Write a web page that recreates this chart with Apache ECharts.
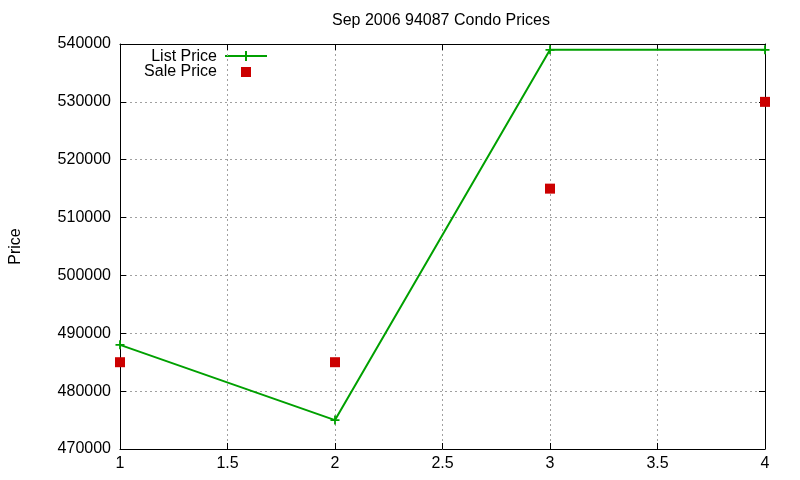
<!DOCTYPE html>
<html>
<head>
<meta charset="utf-8">
<script src="https://cdn.jsdelivr.net/npm/echarts@6/dist/echarts.min.js"></script>
<style>
  html, body { margin: 0; padding: 0; background: #fff; }
  #chart { width: 800px; height: 480px; }
</style>
</head>
<body>
<div id="chart"></div>
<script>
// data
const months = [1, 2, 3, 4];
const listPrice = [488000, 475000, 539000, 539000];
const salePrice = [485000, 485000, 515000, 530000];

const FONT = '"Liberation Sans", Arial, sans-serif';
const FS = 16;
const GREEN = '#00a000';
const RED = '#cc0000';

const chart = echarts.init(document.getElementById('chart'));

// plus marker like gnuplot's point type 1
const plusPath = 'path://M4,0h2v4h4v2h-4v4h-2v-4h-4v-2h4z';

const tickStyle = { inside: true, length: 6, lineStyle: { color: '#000', width: 1 } };
const gridLine = { show: true, lineStyle: { color: '#a0a0a0', type: [2, 3], width: 1 } };

const option = {
  animation: false,
  backgroundColor: '#fff',
  title: {
    text: 'Sep 2006 94087 Condo Prices',
    left: 441,
    top: 13,
    padding: 0,
    textAlign: 'center',
    textStyle: { fontFamily: FONT, fontSize: FS, fontWeight: 'normal', color: '#000' }
  },
  grid: { left: 118, right: 35, top: 44, bottom: 31 },
  xAxis: [
    {
      type: 'value', min: 1, max: 4, interval: 0.5,
      axisLine: { show: true, onZero: false, lineStyle: { color: '#000', width: 1 } },
      axisTick: tickStyle,
      axisLabel: { color: '#000', fontFamily: FONT, fontSize: FS, margin: 7 },
      splitLine: gridLine
    },
    {
      type: 'value', min: 1, max: 4, interval: 0.5, position: 'top',
      axisLine: { show: true, onZero: false, lineStyle: { color: '#000', width: 1 } },
      axisTick: tickStyle,
      axisLabel: { show: false },
      splitLine: { show: false }
    }
  ],
  yAxis: [
    {
      type: 'value', min: 470000, max: 540000, interval: 10000,
      name: 'Price', nameLocation: 'middle', nameGap: 96, nameRotate: 90,
      nameTextStyle: { color: '#000', fontFamily: FONT, fontSize: FS },
      axisLine: { show: true, onZero: false, lineStyle: { color: '#000', width: 1 } },
      axisTick: tickStyle,
      axisLabel: { color: '#000', fontFamily: FONT, fontSize: FS, margin: 9,
                   formatter: v => String(v) },
      splitLine: gridLine
    },
    {
      type: 'value', min: 470000, max: 540000, interval: 10000, position: 'right',
      axisLine: { show: true, onZero: false, lineStyle: { color: '#000', width: 1 } },
      axisTick: tickStyle,
      axisLabel: { show: false },
      splitLine: { show: false }
    }
  ],
  series: [
    {
      name: 'List Price',
      type: 'line',
      data: months.map((m, i) => [m, listPrice[i]]),
      symbol: plusPath,
      symbolSize: 9,
      showAllSymbol: true,
      clip: false,
      lineStyle: { color: GREEN, width: 2 },
      itemStyle: { color: GREEN },
      z: 3
    },
    {
      name: 'Sale Price',
      type: 'scatter',
      data: months.map((m, i) => [m, salePrice[i]]),
      symbol: 'rect',
      symbolSize: 10,
      clip: false,
      itemStyle: { color: RED, opacity: 1 },
      z: 4
    }
  ],
  // key drawn gnuplot-style: text first, sample after it
  graphic: [
    { type: 'text', x: 217, y: 57,
      style: { text: 'List Price', font: FS + 'px ' + FONT, fill: '#000',
               textAlign: 'right', textVerticalAlign: 'middle' } },
    { type: 'line', shape: { x1: 225, y1: 56, x2: 267, y2: 56 },
      style: { stroke: GREEN, lineWidth: 2 } },
    { type: 'line', shape: { x1: 246, y1: 51, x2: 246, y2: 61 },
      style: { stroke: GREEN, lineWidth: 2 } },
    { type: 'text', x: 217, y: 72,
      style: { text: 'Sale Price', font: FS + 'px ' + FONT, fill: '#000',
               textAlign: 'right', textVerticalAlign: 'middle' } },
    { type: 'rect', shape: { x: 241, y: 67, width: 10, height: 10 },
      style: { fill: RED } }
  ]
};

chart.setOption(option);
</script>
</body>
</html>
